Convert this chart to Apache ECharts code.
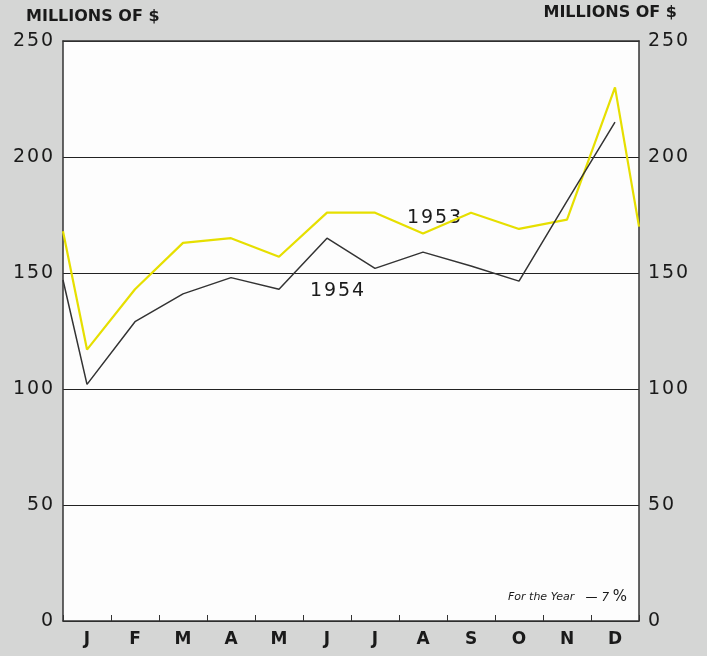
<!DOCTYPE html>
<html>
<head>
<meta charset="utf-8">
<script src="https://cdn.jsdelivr.net/npm/echarts@6/dist/echarts.min.js"></script>
<style>
  html, body { margin: 0; padding: 0; background: #d5d6d5; }
  #main { width: 707px; height: 656px; }
</style>
</head>
<body>
<div id="main"></div>
<script>
// months on the axis
var months = ['J', 'F', 'M', 'A', 'M', 'J', 'J', 'A', 'S', 'O', 'N', 'D'];
// x position in months: 0 = left edge, 0.5 = mid January ... 12 = right edge
var x1953 = [0, 0.5, 1.5, 2.5, 3.5, 4.5, 5.5, 6.5, 7.5, 8.5, 9.5, 10.5, 11.5, 12];
var v1953 = [168, 117, 143, 163, 165, 157, 176, 176, 167, 176, 169, 173, 230, 170];
var x1954 = [0, 0.5, 1.5, 2.5, 3.5, 4.5, 5.5, 6.5, 7.5, 8.5, 9.5, 10.5, 11.5];
var v1954 = [147, 102, 129, 141, 148, 143, 165, 152, 159, 153, 146.5, 181, 215];

function pairs(xs, ys) {
  var out = [];
  for (var i = 0; i < xs.length; i++) out.push([xs[i], ys[i]]);
  return out;
}
// spread the digits a little, like the old print
function spaced(s) {
  return String(s).split('').join('\u200A');
}

var FONT = '"DejaVu Sans", sans-serif';
var chart = echarts.init(document.getElementById('main'));
var numFont = { color: '#1a1a1a', fontSize: 19, fontFamily: FONT, formatter: spaced };

chart.setOption({
  backgroundColor: '#d5d6d5',
  grid: {
    left: 63, right: 68, top: 41, bottom: 35,
    show: true, backgroundColor: '#fdfdfd', borderWidth: 0
  },
  title: [
    { text: 'MILLIONS OF $', left: 21, top: 4,
      textStyle: { fontSize: 16, fontWeight: 'bold', color: '#1a1a1a', fontFamily: FONT } },
    { text: 'MILLIONS OF $', right: 25, top: 0,
      textStyle: { fontSize: 16, fontWeight: 'bold', color: '#1a1a1a', fontFamily: FONT } }
  ],
  xAxis: [
    {
      type: 'category', data: months, boundaryGap: true, position: 'bottom',
      axisLine: { lineStyle: { color: '#333', width: 1.5 } },
      axisTick: { show: true, inside: true, length: 6, interval: 0, lineStyle: { color: '#333' } },
      axisLabel: { color: '#1a1a1a', fontSize: 17, fontWeight: 'bold', fontFamily: FONT, margin: 10 },
      splitLine: { show: false }
    },
    {
      type: 'value', min: 0, max: 12, position: 'top',
      axisLine: { show: true, onZero: false, lineStyle: { color: '#333', width: 1.5 } },
      axisTick: { show: false }, axisLabel: { show: false }, splitLine: { show: false }
    }
  ],
  yAxis: [
    {
      type: 'value', min: 0, max: 250, interval: 50, position: 'left',
      axisLine: { show: true, lineStyle: { color: '#333', width: 1.5 } },
      axisTick: { show: false },
      axisLabel: Object.assign({ margin: 10 }, numFont),
      splitLine: { show: true, lineStyle: { color: '#222', width: 1.2 } }
    },
    {
      type: 'value', min: 0, max: 250, interval: 50, position: 'right',
      axisLine: { show: true, lineStyle: { color: '#333', width: 1.5 } },
      axisTick: { show: false },
      axisLabel: Object.assign({ margin: 9 }, numFont),
      splitLine: { show: false }
    }
  ],
  series: [
    {
      name: '1953', type: 'line', xAxisIndex: 1, yAxisIndex: 0,
      data: pairs(x1953, v1953), symbol: 'none',
      lineStyle: { color: '#e6df00', width: 2.2 }, z: 3
    },
    {
      name: '1954', type: 'line', xAxisIndex: 1, yAxisIndex: 0,
      data: pairs(x1954, v1954), symbol: 'none',
      lineStyle: { color: '#333333', width: 1.5 }, z: 4
    }
  ],
  graphic: [
    { type: 'text', left: 407, top: 209,
      style: { text: spaced('1953'), fontSize: 19, fill: '#1a1a1a', fontFamily: FONT } },
    { type: 'text', left: 310, top: 282,
      style: { text: spaced('1954'), fontSize: 19, fill: '#1a1a1a', fontFamily: FONT } },
    { type: 'text', left: 508, top: 590,
      style: {
        text: '{a|For the Year}   {b|\u2014 7 }{c|%}',
        fill: '#1a1a1a', fontFamily: FONT,
        rich: {
          a: { fontSize: 11, fontStyle: 'italic', fontFamily: FONT, fill: '#1a1a1a' },
          b: { fontSize: 12, fontStyle: 'italic', fontFamily: FONT, fill: '#1a1a1a' },
          c: { fontSize: 15, fontFamily: FONT, fill: '#1a1a1a' }
        }
      } }
  ]
});
</script>
</body>
</html>
